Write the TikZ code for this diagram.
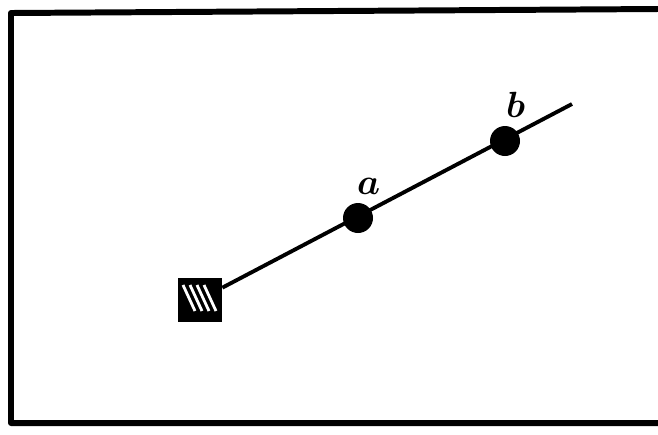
\documentclass[tikz,border=0pt]{standalone}
\usepackage{tikz}

\begin{document}
\begin{tikzpicture}[x=0.02cm,y=-0.02cm]
\tikzset{dot/.style={circle,fill=black,inner sep=0pt,minimum size=0.6cm},
  lbl/.style={font=\huge\boldmath,label distance=1pt,xshift=6}}
\useasboundingbox (0,0) rectangle (658,434);
\draw[line width=3.4pt,line join=round] (658,9)--(11,13)--(11,423)--(658,423);
\node[fill=black,minimum size=0.88cm,inner sep=0pt] (src) at (200,300) {};
\foreach \d in {-9,-2,5,12}{\draw[white,line width=1.6pt] ([shift={(\d-8,-15)}]src.center)--([shift={(\d+4,11)}]src.center);}
\coordinate (end) at (572,104);
\draw[line width=2.2pt] (src.north east)++(0,10) coordinate (st) (st)--(end);
\node[dot,label={[lbl]above:$a$}] (a) at (358,218) {};
\node[dot,label={[lbl]above:$b$}] (b) at (505,141) {};
\end{tikzpicture}
\end{document}
